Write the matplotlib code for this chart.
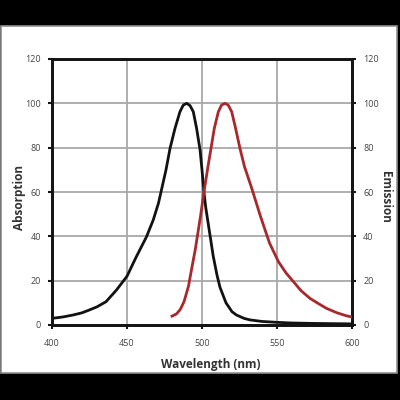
import matplotlib.pyplot as plt
from matplotlib.patches import Rectangle

# absorption spectrum (black)
abs_wl = [400, 407, 414, 420, 425, 430, 436, 443, 450, 456, 463, 467.5, 471,
          473.5, 476, 478.7, 482, 485.3, 487.5, 489.8, 492, 494.2, 496.4, 498.7,
          500, 501.3, 502.5, 504.2, 507.5, 510, 512, 516, 520, 523, 528, 532,
          540, 550, 560, 575, 600]
abs_val = [3, 3.6, 4.5, 5.5, 6.8, 8.2, 10.5, 15.8, 22, 30.5, 39.8, 47.4, 55,
           62.5, 70, 79.7, 88.7, 96.2, 99.2, 100, 99, 96.2, 88.7, 79,
           70, 60, 53, 45.5, 31, 22.5, 17, 10, 6, 4.5, 3, 2.3,
           1.6, 1.2, 0.9, 0.7, 0.5]

# emission spectrum (red)
em_wl = [480, 483, 485.5, 488, 491, 493, 495.5, 499, 501.3, 503.8, 506, 508.2,
         510.9, 513, 515.3, 517.5, 519.8, 522.4, 525.3, 528.3, 533, 539, 545,
         551, 556, 561, 566, 572, 578, 583, 590, 596, 600]
em_val = [4, 5, 7, 10.5, 17.5, 25, 34, 49, 60, 70.7, 79.7, 88.7,
          96.2, 99.2, 100, 99.2, 96.2, 88.7, 79.7, 71.5, 62, 49, 37,
          28.5, 23.5, 19.5, 15.5, 12, 9.5, 7.5, 5.5, 4.2, 3.6]

x_ticks = [400, 450, 500, 550, 600]
y_ticks = [0, 20, 40, 60, 80, 100, 120]

plt.rcParams['font.family'] = ['Open Sans', 'DejaVu Sans']

fig = plt.figure(figsize=(4, 4), dpi=100, facecolor='black')
# white panel inside the black frame
fig.patches.append(Rectangle((0.003, 0.068), 0.99, 0.867, transform=fig.transFigure,
                             facecolor='white', edgecolor='#909090', linewidth=1.2,
                             zorder=-10))

ax = fig.add_axes([0.13, 0.1875, 0.75, 0.665])
ax.set_facecolor('white')
ax.plot(abs_wl, abs_val, color='#121212', linewidth=2.0, zorder=3,
        solid_joinstyle='round')
ax.set_xlim(400, 600)
ax.set_ylim(0, 120)
ax.set_xticks(x_ticks)
ax.set_yticks(y_ticks)
ax.grid(True, color='#a8a8a8', linewidth=1.3)
ax.set_axisbelow(True)

ax2 = ax.twinx()
ax2.plot(em_wl, em_val, color='#a8282c', linewidth=2.0, zorder=3,
         solid_joinstyle='round')
ax2.set_ylim(0, 120)
ax2.set_yticks(y_ticks)

for a in (ax, ax2):
    for s in a.spines.values():
        s.set_linewidth(2.0)
        s.set_color('#151515')
    a.tick_params(direction='out', length=3, width=1.5, colors='#151515',
                  labelsize=6.5, labelcolor='#444444')
ax.tick_params(axis='y', pad=5)
ax.tick_params(axis='x', pad=7)
ax2.tick_params(axis='y', pad=5)

ax.set_xlabel('Wavelength (nm)', fontsize=8.5, fontweight='bold', color='#333333')
ax.xaxis.set_label_coords(0.53, -0.125)
ax.set_ylabel('Absorption', fontsize=8.5, fontweight='bold', color='#333333',
              va='center')
ax.yaxis.set_label_coords(-0.11, 0.48)
ax2.set_ylabel('Emission', fontsize=8.5, fontweight='bold', color='#333333',
               rotation=270, va='center')
ax2.yaxis.set_label_coords(1.11, 0.48)

fig.savefig('out.png', dpi=100, facecolor=fig.get_facecolor())
